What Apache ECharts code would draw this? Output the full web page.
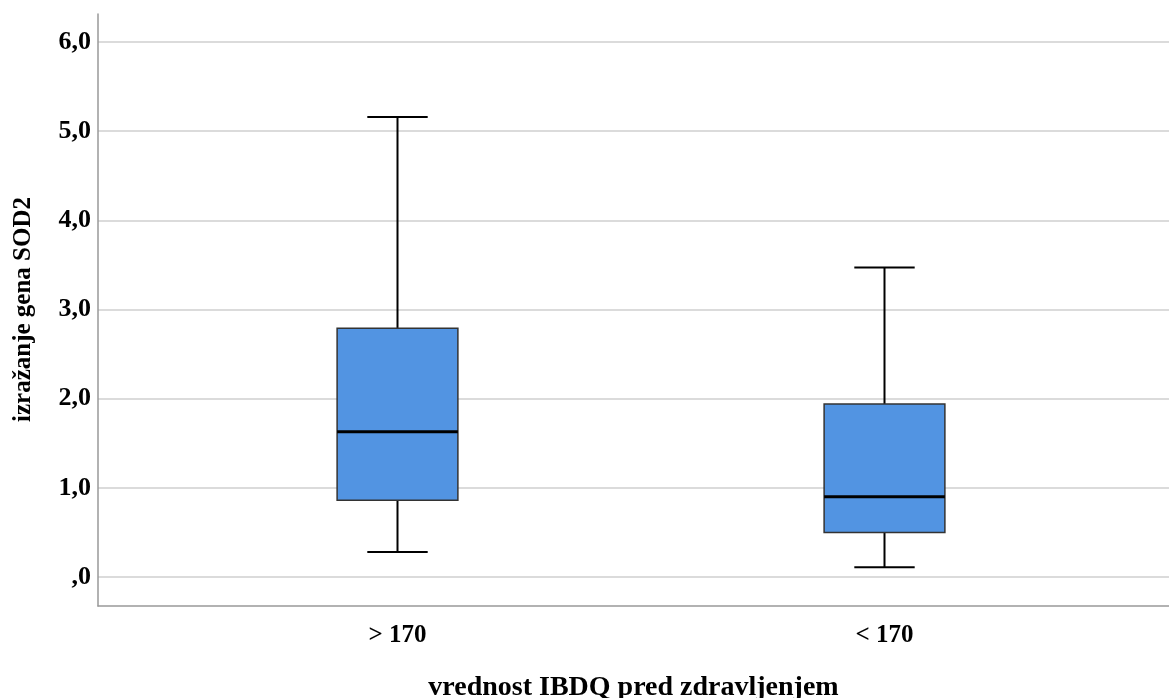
<!DOCTYPE html>
<html><head><meta charset="utf-8">
<script src="https://cdn.jsdelivr.net/npm/echarts@6/dist/echarts.min.js"></script>
<style>html,body{margin:0;padding:0;background:#fff}#c{width:1169px;height:698px}</style>
</head><body><div id="c"></div>
<script>
const categories = ['> 170', '< 170'];
const whiskerLow = [0.28, 0.11];
const q1 = [0.86, 0.50];
const median = [1.63, 0.90];
const q3 = [2.79, 1.94];
const whiskerHigh = [5.16, 3.47];
const yTicks = [0, 1, 2, 3, 4, 5, 6];
const yTitle = 'izražanje gena SOD2';
const xTitle = 'vrednost IBDQ pred zdravljenjem';

const boxData = categories.map((c, i) => [i, whiskerLow[i], q1[i], median[i], q3[i], whiskerHigh[i]]);
const font = 'Liberation Serif, Times New Roman, serif';

const chart = echarts.init(document.getElementById('c'), null, {renderer: 'canvas'});
chart.setOption({
  animation: false,
  backgroundColor: '#fff',
  grid: [
    {left: 98, right: 0, top: 14, bottom: 92, outerBoundsMode: 'none', containLabel: false},
    {left: 154, right: 41, top: 42, bottom: 121, outerBoundsMode: 'none', containLabel: false},
    {left: 98, right: 0, top: 42, bottom: 121, outerBoundsMode: 'none', containLabel: false}
  ],
  xAxis: [
    {gridIndex: 0, type: 'value', min: 0, max: 1, axisLine: {show: true, lineStyle: {color: '#999', width: 1.5}},
     axisTick: {show: false}, axisLabel: {show: false}, splitLine: {show: false},
     name: xTitle, nameLocation: 'middle', nameGap: 68,
     nameTextStyle: {fontFamily: font, fontWeight: 'bold', fontSize: 28, color: '#000'}},
    {gridIndex: 1, type: 'category', data: categories, offset: 29,
     axisLine: {show: false}, axisTick: {show: false},
     axisLabel: {fontFamily: font, fontWeight: 'bold', fontSize: 25, color: '#000', margin: 17}},
    {gridIndex: 2, type: 'value', min: 0, max: 1, show: false}
  ],
  yAxis: [
    {gridIndex: 0, type: 'value', min: 0, max: 1, axisLine: {show: true, lineStyle: {color: '#999', width: 1.5}},
     axisTick: {show: false}, axisLabel: {show: false}, splitLine: {show: false}},
    {gridIndex: 1, type: 'value', min: 0, max: 6, interval: 1, show: false},
    {gridIndex: 2, type: 'value', min: 0, max: 6, interval: 1,
     axisLine: {show: false}, axisTick: {show: false},
     splitLine: {show: true, lineStyle: {color: '#cfcfcf', width: 1.5}},
     axisLabel: {fontFamily: font, fontWeight: 'bold', fontSize: 26, color: '#000', margin: 7,
       formatter: v => (v === 0 ? '' : String(v)) + ',0'},
     name: yTitle, nameLocation: 'middle', nameGap: 62, nameRotate: 90,
     nameTextStyle: {fontFamily: font, fontWeight: 'bold', fontSize: 25, color: '#000'}}
  ],
  series: [{
    type: 'custom',
    xAxisIndex: 1, yAxisIndex: 1,
    data: boxData,
    encode: {x: 0, y: [1, 2, 3, 4, 5]},
    renderItem: function (params, api) {
      const x = api.value(0);
      const pLow = api.coord([x, api.value(1)]);
      const pQ1 = api.coord([x, api.value(2)]);
      const pMed = api.coord([x, api.value(3)]);
      const pQ3 = api.coord([x, api.value(4)]);
      const pHigh = api.coord([x, api.value(5)]);
      const band = api.size([1, 0])[0];
      const bw = band * 0.248;
      const cw = bw / 2;
      const cx = pMed[0];
      const ls = {stroke: '#000', lineWidth: 2};
      return {
        type: 'group',
        children: [
          {type: 'line', shape: {x1: cx, y1: pHigh[1], x2: cx, y2: pQ3[1]}, style: ls},
          {type: 'line', shape: {x1: cx, y1: pQ1[1], x2: cx, y2: pLow[1]}, style: ls},
          {type: 'line', shape: {x1: cx - cw / 2, y1: pHigh[1], x2: cx + cw / 2, y2: pHigh[1]}, style: ls},
          {type: 'line', shape: {x1: cx - cw / 2, y1: pLow[1], x2: cx + cw / 2, y2: pLow[1]}, style: ls},
          {type: 'rect', shape: {x: cx - bw / 2, y: pQ3[1], width: bw, height: pQ1[1] - pQ3[1]},
           style: {fill: '#5294e2', stroke: '#333', lineWidth: 1.5}},
          {type: 'line', shape: {x1: cx - bw / 2, y1: pMed[1], x2: cx + bw / 2, y2: pMed[1]},
           style: {stroke: '#000', lineWidth: 3}}
        ]
      };
    }
  }]
});
</script></body></html>
